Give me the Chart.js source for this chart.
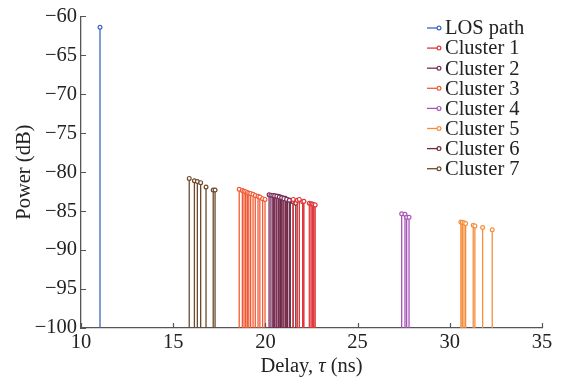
<!DOCTYPE html>
<html>
<head>
<meta charset="utf-8">
<script src="https://cdn.jsdelivr.net/npm/chart.js@4.4.0/dist/chart.umd.min.js"></script>
<style>
html, body { margin: 0; padding: 0; background: #fff; }
</style>
</head>
<body>
<canvas id="pdpChart" width="567" height="385"></canvas>
<script>
// delays in ns, powers in dB
const losDelay = [11.03];
const losPower = [-61.4];

const c1Delay = [21.51, 21.73, 21.84, 22.02, 22.09, 22.38, 22.47, 22.55, 22.62, 22.70];
const c1Power = [-83.5, -83.6, -83.5, -83.8, -83.75, -84.0, -84.05, -84.1, -84.15, -84.2];

const c2Delay = [20.20, 20.30, 20.40, 20.50, 20.62, 20.75, 20.88, 21.00, 21.15, 21.30];
const c2Power = [-82.9, -82.95, -83.0, -83.05, -83.1, -83.2, -83.3, -83.4, -83.5, -83.6];

const c3Delay = [18.58, 18.75, 18.84, 18.93, 19.02, 19.10, 19.20, 19.33, 19.45, 19.60, 19.70, 19.85, 19.98];
const c3Power = [-82.2, -82.35, -82.45, -82.5, -82.6, -82.7, -82.75, -82.85, -83.0, -83.1, -83.2, -83.4, -83.5];

const c4Delay = [27.39, 27.57, 27.66, 27.79];
const c4Power = [-85.35, -85.4, -85.8, -85.8];

const c5Delay = [30.60, 30.68, 30.77, 30.86, 31.27, 31.36, 31.78, 32.30];
const c5Power = [-86.4, -86.45, -86.5, -86.6, -86.8, -86.9, -87.1, -87.4];

const c6Delay = [20.45, 20.58, 20.70, 20.82, 20.95, 21.08, 21.20, 21.35, 21.50, 21.65];
const c6Power = [-83.0, -83.05, -83.1, -83.2, -83.3, -83.35, -83.5, -83.6, -83.8, -84.0];

const c7Delay = [15.87, 16.15, 16.31, 16.49, 16.78, 17.17, 17.27];
const c7Power = [-80.8, -81.1, -81.2, -81.35, -81.9, -82.3, -82.3];

const seriesNames = ['LOS path', 'Cluster 1', 'Cluster 2', 'Cluster 3', 'Cluster 4', 'Cluster 5', 'Cluster 6', 'Cluster 7'];
const seriesColors = ['#3a66c0', '#e0383c', '#7a2f5c', '#f25a35', '#a855b8', '#f68d3c', '#6f2a36', '#6d4a2c'];
const xTicks = [10, 15, 20, 25, 30, 35];
const yTicks = [-100, -95, -90, -85, -80, -75, -70, -65, -60];

const floorDb = -100;
const serif = '"Liberation Serif", "DejaVu Serif", serif';
const fontPx = 20.5;

// each stem: floor -> value -> gap
function stems(delay, power) {
    let pts = [];
    for (let i = 0; i < delay.length; i++) {
        pts.push({x: delay[i], y: floorDb});
        pts.push({x: delay[i], y: power[i]});
        pts.push({x: delay[i], y: null});
    }
    return pts;
}

const allDelay = [losDelay, c1Delay, c2Delay, c3Delay, c4Delay, c5Delay, c6Delay, c7Delay];
const allPower = [losPower, c1Power, c2Power, c3Power, c4Power, c5Power, c6Power, c7Power];

let datasets = [];
for (let k = 0; k < seriesNames.length; k++) {
    datasets.push({
        label: seriesNames[k],
        data: stems(allDelay[k], allPower[k]),
        borderColor: seriesColors[k],
        backgroundColor: '#ffffff',
        pointBorderColor: seriesColors[k],
        pointBackgroundColor: '#ffffff',
        borderWidth: 1.3,
        pointBorderWidth: 1.2,
        pointRadius: function(ctx) { return ctx.dataIndex % 3 === 1 ? 1.9 : 0; },
        pointHoverRadius: 0,
        spanGaps: false,
        showLine: true,
        clip: 4
    });
}

// inward ticks, axis titles and legend
const decorations = {
    id: 'decorations',
    afterDraw(chart) {
        const ctx = chart.ctx;
        const area = chart.chartArea;
        const xs = chart.scales.x;
        const ys = chart.scales.y;
        ctx.save();
        ctx.strokeStyle = '#555';
        ctx.lineWidth = 1.2;
        ctx.beginPath();
        xTicks.forEach(function(v) {
            let px = Math.round(xs.getPixelForValue(v)) + 0.5;
            ctx.moveTo(px, area.bottom);
            ctx.lineTo(px, area.bottom - 5);
        });
        yTicks.forEach(function(v) {
            let py = Math.round(ys.getPixelForValue(v)) + 0.5;
            ctx.moveTo(area.left, py);
            ctx.lineTo(area.left + 5, py);
        });
        ctx.stroke();

        // x title with italic tau
        ctx.fillStyle = '#222';
        ctx.textBaseline = 'middle';
        const parts = [['Delay, ', fontPx + 'px ' + serif], ['\u03c4', 'italic ' + fontPx + 'px ' + serif], [' (ns)', fontPx + 'px ' + serif]];
        let total = 0;
        parts.forEach(function(p) { ctx.font = p[1]; total += ctx.measureText(p[0]).width; });
        let tx = (area.left + area.right) / 2 - total / 2;
        parts.forEach(function(p) {
            ctx.font = p[1];
            ctx.textAlign = 'left';
            ctx.fillText(p[0], tx, 367);
            tx += ctx.measureText(p[0]).width;
        });

        // y title
        ctx.save();
        ctx.translate(25, (area.top + area.bottom) / 2);
        ctx.rotate(-Math.PI / 2);
        ctx.font = fontPx + 'px ' + serif;
        ctx.textAlign = 'center';
        ctx.fillText('Power (dB)', 0, 0);
        ctx.restore();

        // legend
        for (let k = 0; k < seriesNames.length; k++) {
            let ly = 28 + k * 20.1;
            ctx.strokeStyle = seriesColors[k];
            ctx.lineWidth = 1.3;
            ctx.beginPath();
            ctx.moveTo(427, ly);
            ctx.lineTo(439, ly);
            ctx.stroke();
            ctx.beginPath();
            ctx.arc(439, ly, 1.9, 0, Math.PI * 2);
            ctx.fillStyle = '#fff';
            ctx.fill();
            ctx.lineWidth = 1.2;
            ctx.stroke();
            ctx.fillStyle = '#222';
            ctx.font = fontPx + 'px ' + serif;
            ctx.textAlign = 'left';
            ctx.fillText(seriesNames[k], 445, ly + 1);
        }
        ctx.restore();
    }
};

new Chart(document.getElementById('pdpChart'), {
    type: 'scatter',
    data: { datasets: datasets },
    options: {
        responsive: false,
        animation: false,
        events: [],
        layout: { padding: { left: 0, top: 12, right: 25, bottom: 0 } },
        plugins: { legend: { display: false }, tooltip: { enabled: false } },
        scales: {
            x: {
                type: 'linear',
                min: 10,
                max: 35,
                afterBuildTicks: function(scale) { scale.ticks = xTicks.map(function(v) { return {value: v}; }); },
                afterFit: function(scale) { scale.height = 57; },
                grid: { display: false, drawTicks: false },
                border: { display: true, color: '#555', width: 1.3 },
                ticks: {
                    padding: 2,
                    color: '#222',
                    font: { family: serif, size: fontPx },
                    maxRotation: 0,
                    autoSkip: false
                }
            },
            y: {
                type: 'linear',
                min: -100,
                max: -60,
                afterBuildTicks: function(scale) { scale.ticks = yTicks.map(function(v) { return {value: v}; }); },
                afterFit: function(scale) { scale.width = 81; },
                grid: { display: false, drawTicks: false },
                border: { display: true, color: '#555', width: 1.3 },
                ticks: {
                    padding: 4,
                    color: '#222',
                    font: { family: serif, size: fontPx },
                    autoSkip: false,
                    callback: function(v) { return String(v).replace('-', '\u2212'); }
                }
            }
        }
    },
    plugins: [decorations]
});
</script>
</body>
</html>
